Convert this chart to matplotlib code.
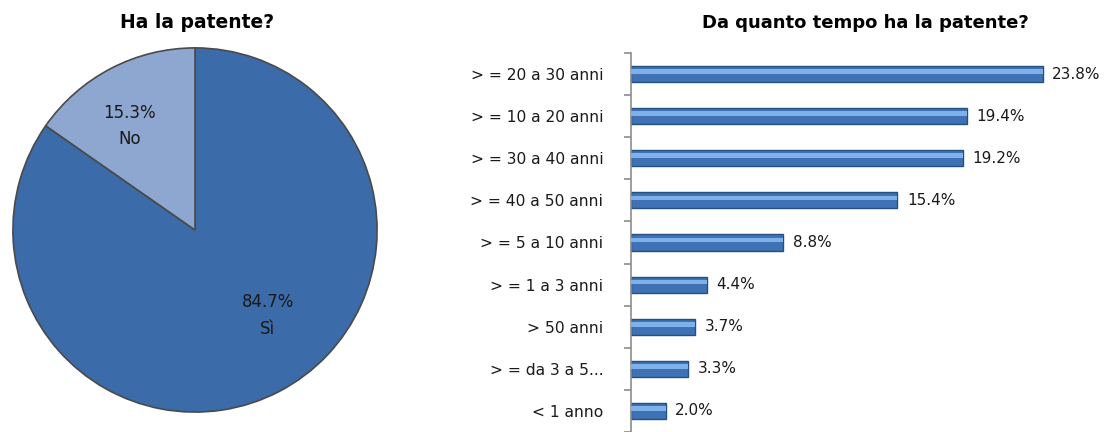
import numpy as np
import matplotlib.pyplot as plt

# --- data ---
pie_labels = ["Sì", "No"]
pie_values = [84.7, 15.3]

bar_labels = [
    "> = 20 a 30 anni",
    "> = 10 a 20 anni",
    "> = 30 a 40 anni",
    "> = 40 a 50 anni",
    "> = 5 a 10 anni",
    "> = 1 a 3 anni",
    "> 50 anni",
    "> = da 3 a 5...",
    "< 1 anno",
]
bar_values = [23.8, 19.4, 19.2, 15.4, 8.8, 4.4, 3.7, 3.3, 2.0]

W, H = 1118, 432
fig = plt.figure(figsize=(W / 100, H / 100), dpi=100)
fig.patch.set_facecolor("white")

# ============================================================
# Pie: Ha la patente?
# ============================================================
cx, cy, r = 195, 230, 183
ax_pie = fig.add_axes([(cx - r) / W, (H - cy - r) / H, 2 * r / W, 2 * r / H])
wedges, _ = ax_pie.pie(
    pie_values,
    colors=["#3b6ba8", "#8ea7d0"],
    startangle=90,
    counterclock=False,
    wedgeprops=dict(edgecolor="#4a4a4a", linewidth=1.2),
)
ax_pie.set_xlim(-1.005, 1.005)
ax_pie.set_ylim(-1.005, 1.005)
ax_pie.set_aspect("equal")

# label positions in data units (pie radius = 1)
label_pos = {"Sì": (0.40, -0.47), "No": (-0.36, 0.57)}
for lab, val in zip(pie_labels, pie_values):
    x, y = label_pos[lab]
    ax_pie.text(x, y, f"{val:.1f}%\n{lab}", ha="center", va="center",
                fontsize=12, color="#1a1a1a", linespacing=1.6)

fig.text(197 / W, 1 - 23 / H, "Ha la patente?", ha="center", va="center",
         fontsize=13.5, fontweight="bold")

# ============================================================
# Bars: Da quanto tempo ha la patente?
# ============================================================
x0, top = 631, 53
px_per_pct = 17.3
ax_bar = fig.add_axes([x0 / W, 0, (W - x0) / W, (H - top) / H])
n = len(bar_labels)
y = np.arange(n)
ax_bar.barh(y, bar_values, height=0.38, color="#3f72b4",
            edgecolor="#24507f", linewidth=1.0, zorder=2)
# highlight band to mimic the glossy look
ax_bar.barh(y - 0.06, bar_values, height=0.11, color="#7eb1ea",
            linewidth=0, zorder=3)

for yi, v in zip(y, bar_values):
    ax_bar.text(v + 0.55, yi, f"{v:.1f}%", va="center", ha="left",
                fontsize=11, color="#1a1a1a")

ax_bar.set_xlim(0, (W - x0) / px_per_pct)
ax_bar.set_ylim(n - 0.5, -0.5)
ax_bar.set_yticks(y)
ax_bar.set_yticklabels(bar_labels, fontsize=11.2, color="#1a1a1a")
ax_bar.set_yticks(np.arange(n + 1) - 0.5, minor=True)
ax_bar.tick_params(axis="y", which="major", length=0, pad=20)
ax_bar.tick_params(axis="y", which="minor", length=5, color="#8c8c8c", width=1.2)
ax_bar.set_xticks([])
for s in ["top", "right", "bottom"]:
    ax_bar.spines[s].set_visible(False)
ax_bar.spines["left"].set_color("#8c8c8c")
ax_bar.spines["left"].set_linewidth(1.2)
ax_bar.patch.set_alpha(0)

fig.text(865 / W, 1 - 23 / H, "Da quanto tempo ha la patente?", ha="center",
         va="center", fontsize=13, fontweight="bold")

fig.savefig("out.png", dpi=100)
